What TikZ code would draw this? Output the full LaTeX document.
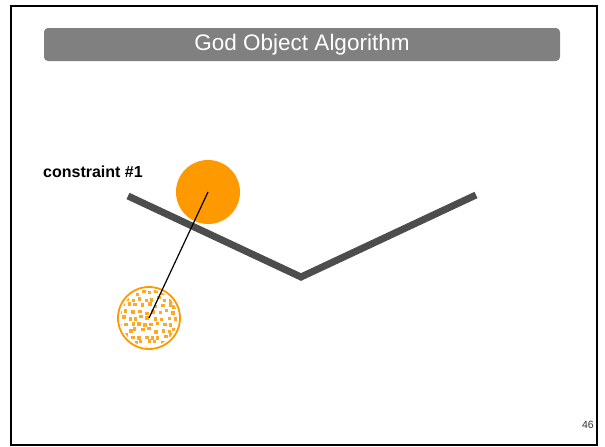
\documentclass[tikz,border=0pt]{standalone}
\usepackage{fontspec}
\setmainfont{Liberation Sans}
\definecolor{orng}{HTML}{FF9900}
\definecolor{wallgray}{HTML}{4D4D4D}
\definecolor{titlegray}{HTML}{808080}
\begin{document}
\begin{tikzpicture}[x=1pt,y=-1pt,
  frame/.style={draw=black,line width=2pt},
  titlebar/.style={fill=titlegray,rounded corners=4pt,draw=none},
  wall/.style={draw=wallgray,line width=7pt},
  god/.style={circle,fill=orng,minimum size=64pt,inner sep=0pt},
  proxy/.style={circle,draw=orng,line width=1.8pt,minimum size=62pt,inner sep=0pt},
  dot/.style={fill=orng!85},
  link/.style={draw=black,line width=1.2pt}]
\useasboundingbox (0,0) rectangle (605,447);
\draw[frame] (11,6) rectangle (597,445);
\fill[titlebar] (44,28) rectangle (560,61);
\node[text=white,font=\fontsize{22.5}{25}\selectfont] (title) at (302,45) {God Object Algorithm};
\node[font=\bfseries\fontsize{16}{18}\selectfont,anchor=west,inner sep=0pt] (label) at (43,172) {constraint \#1};
\coordinate (wl) at (128,196);
\coordinate (wm) at (301,277);
\coordinate (wr) at (476,195);
\draw[wall] (wl) -- (wm) -- (wr);
\node[god] (g) at (208,192) {};
\node[proxy] (p) at (149,318) {};
\begin{scope}
\clip (149,318) circle (28.5);
\pgfmathsetseed{11}
\foreach \i in {-5,...,5}{
  \foreach \j in {-5,...,5}{
    \pgfmathsetmacro{\dx}{\i*6.6+rand*1.8+(mod(\j,2))*3.3}
    \pgfmathsetmacro{\dy}{\j*6.2+rand*1.8}
    \fill[dot] ({149+\dx-1.8},{318+\dy-1.8}) rectangle ++(3.6,3.6);
  }
}
\end{scope}
\draw[link] (g.center) -- (p.center);
\node[font=\fontsize{10.5}{12}\selectfont,text=black!80,anchor=east,inner sep=0pt] (num) at (594,425) {46};
\end{tikzpicture}
\end{document}
